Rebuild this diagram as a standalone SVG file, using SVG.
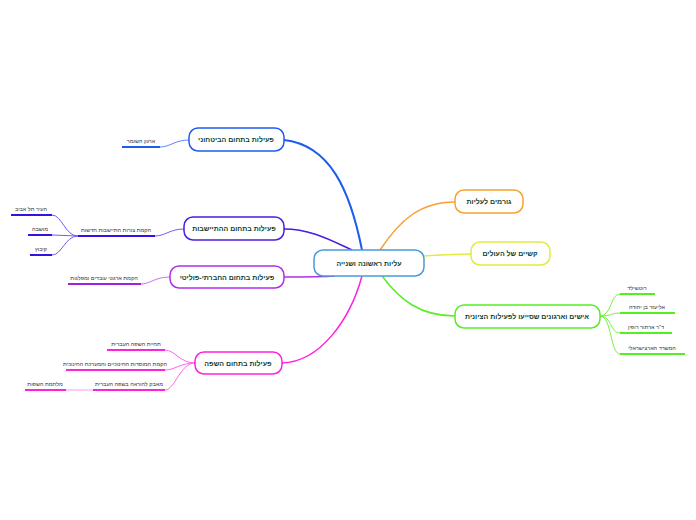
<svg xmlns="http://www.w3.org/2000/svg" width="696" height="520" viewBox="0 0 696 520">
<style>
.n{fill:#fff;stroke-width:1.5}
.t{font-family:"Liberation Sans","DejaVu Sans",sans-serif;font-size:7px;fill:#0b3d2e;font-weight:bold;text-anchor:middle}
.l{font-family:"Liberation Sans","DejaVu Sans",sans-serif;font-size:5.5px;fill:#333;text-anchor:middle}
.c{fill:none}
</style>
<rect width="696" height="520" fill="#fff"/>
<g id="connectors" class="c">
<path d="M362 250 C350 190 330 145 284 140" stroke="#1e5cf0" stroke-width="2"/>
<path d="M352 250 C330 240 310 229 284 229" stroke="#4a1de0" stroke-width="1.5"/>
<path d="M335 276 C320 277 300 277 284 277" stroke="#b030e8" stroke-width="1.5"/>
<path d="M362 276 C350 320 320 362 282 363" stroke="#ff22dd" stroke-width="1.5"/>
<path d="M380 250 C400 220 420 202 455 202" stroke="#f8a030" stroke-width="1.5"/>
<path d="M424 256 C440 255 455 254 471 254" stroke="#e0ec40" stroke-width="1.5"/>
<path d="M382 276 C400 300 420 316 455 316" stroke="#55ee22" stroke-width="1.5"/>
<g stroke-width="1">
<path d="M189 140 C175 140 170 147 160 147" stroke="#5a8af8"/>
<path d="M184 229 C170 229 165 236 155 236" stroke="#7a5af0"/>
<path d="M78 236 C65 236 62 215 52 215" stroke="#7a5af0"/>
<path d="M78 236 L52 235" stroke="#7a5af0"/>
<path d="M78 236 C65 236 62 255 52 255" stroke="#7a5af0"/>
<path d="M170 277 C155 277 150 284 141 284" stroke="#c870f0"/>
<path d="M195 363 C180 363 175 350 165 350" stroke="#ff66ee"/>
<path d="M195 363 C180 363 175 370 165 370" stroke="#ff66ee"/>
<path d="M195 363 C180 363 175 390 165 390" stroke="#ff66ee"/>
<path d="M93 390 L66 390" stroke="#ff99ee"/>
<path d="M600 316 C612 316 610 294 620 294" stroke="#77f044"/>
<path d="M600 316 C612 316 610 313 620 313" stroke="#77f044"/>
<path d="M600 316 C612 316 610 333 620 333" stroke="#77f044"/>
<path d="M600 316 C612 316 610 354 620 354" stroke="#77f044"/>
</g>
<g stroke-width="2">
<path d="M122 147 H160" stroke="#1e5cf0"/>
<path d="M78 236 H155" stroke="#3a10e0"/>
<path d="M11 215 H52 M28 235 H52 M30 255 H52" stroke="#3a10e0"/>
<path d="M68 284 H141" stroke="#a020e0"/>
<path d="M107 350 H165 M66 370 H165 M93 390 H165 M25 390 H66" stroke="#ff22dd"/>
<path d="M620 294 H655 M620 313 H675 M620 333 H672 M620 354 H685" stroke="#55ee22"/>
</g>
</g>
<g id="center"><rect x="314" y="250" width="110" height="26" rx="9" class="n" stroke="#4a9ad8"/><text x="369" y="266" class="t" font-size="8">עליות ראשונה ושנייה</text></g>
<g id="n1"><rect x="189" y="128" width="95" height="23" rx="9" class="n" stroke="#1e5cf0"/><text x="236" y="142" class="t">פעילות בתחום הביטחוני</text></g>
<g id="n2"><rect x="184" y="217" width="100" height="23" rx="9" class="n" stroke="#4a1de0"/><text x="234" y="231" class="t">פעילות בתחום ההתיישבות</text></g>
<g id="n3"><rect x="170" y="266" width="114" height="22" rx="9" class="n" stroke="#b030e8"/><text x="227" y="280" class="t">פעילות בתחום החברתי-פוליטי</text></g>
<g id="n4"><rect x="195" y="352" width="87" height="22" rx="9" class="n" stroke="#ff22dd"/><text x="238" y="366" class="t">פעילות בתחום השפה</text></g>
<g id="n5"><rect x="455" y="190" width="68" height="23" rx="9" class="n" stroke="#f8a030"/><text x="489" y="204" class="t">גורמים לעליות</text></g>
<g id="n6"><rect x="471" y="242" width="79" height="23" rx="9" class="n" stroke="#e0ec40"/><text x="510" y="256" class="t">קשיים של העולים</text></g>
<g id="n7"><rect x="455" y="305" width="145" height="23" rx="9" class="n" stroke="#55ee22"/><text x="527" y="319" class="t">אישים וארגונים שסייעו לפעילות הציונית</text></g>
<g id="leaves">
<text x="141" y="143" class="l">ארגון השומר</text>
<text x="116" y="232" class="l">הקמת צורות התיישבות חדשות</text>
<text x="31" y="211" class="l">העיר תל אביב</text>
<text x="40" y="231" class="l">מושבה</text>
<text x="41" y="251" class="l">קיבוץ</text>
<text x="104" y="280" class="l">הקמת ארגוני עובדים ומפלגות</text>
<text x="136" y="346" class="l">תחיית השפה העברית</text>
<text x="115" y="366" class="l">הקמת המוסדות החינוכיים והמערכת החינוכית</text>
<text x="129" y="386" class="l">מאבק להוראה בשפה העברית</text>
<text x="45" y="386" class="l">מלחמת השפות</text>
<text x="637" y="290" class="l">רוטשילד</text>
<text x="647" y="309" class="l">אליעזר בן יהודה</text>
<text x="646" y="329" class="l">ד"ר ארתור רופין</text>
<text x="652" y="350" class="l">המשרד הארצישראלי</text>
</g>
</svg>
